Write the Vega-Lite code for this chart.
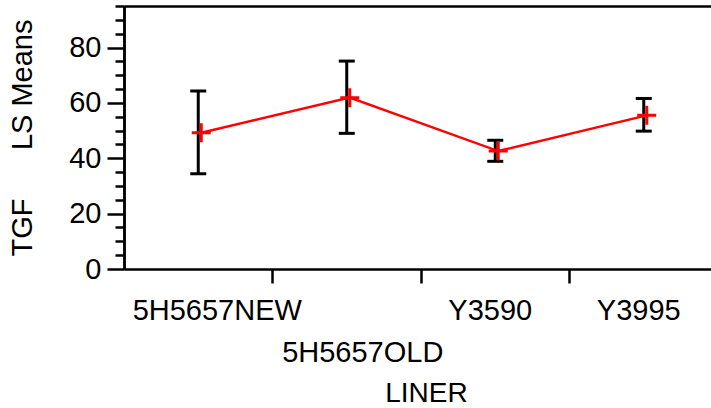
{
  "$schema": "https://vega.github.io/schema/vega-lite/v6.json",
  "width": 587,
  "height": 263,
  "autosize": {"type": "none"},
  "padding": {"left": 124, "top": 6, "right": 0, "bottom": 139},
  "background": "white",
  "config": {
    "view": {"stroke": null},
    "font": "Liberation Sans",
    "axis": {"grid": false}
  },
  "data": {
    "values": [
      {"liner": "5H5657NEW", "mean": 49.2, "lower": 34.4, "upper": 64.3},
      {"liner": "5H5657OLD", "mean": 61.9, "lower": 49.0, "upper": 75.1},
      {"liner": "Y3590", "mean": 42.6, "lower": 38.9, "upper": 46.5},
      {"liner": "Y3995", "mean": 55.5, "lower": 49.8, "upper": 61.6}
    ]
  },
  "resolve": {"axis": {"x": "independent", "y": "independent"}},
  "layer": [
    {
      "mark": {"type": "rule", "color": "black", "strokeWidth": 3},
      "encoding": {
        "x": {
          "field": "liner", "type": "nominal", "sort": null,
          "scale": {"range": [0, 594], "paddingInner": 0, "paddingOuter": 0},
          "axis": {
            "orient": "bottom",
            "title": "LINER",
            "titleFontSize": 28,
            "titleFontWeight": "normal",
            "titleColor": "black",
            "titlePadding": 12,
            "titleX": 302,
            "labelFontSize": 29,
            "labelColor": "black",
            "labelAngle": 0,
            "labelOverlap": false,
            "labelPadding": {"condition": {"test": "datum.value == '5H5657OLD'", "value": 55}, "value": 13},
            "labelOffset": {"condition": [
              {"test": "datum.value == '5H5657NEW'", "value": 19},
              {"test": "datum.value == '5H5657OLD'", "value": 16}
            ], "value": -5},
            "bandPosition": 0,
            "tickSize": 14,
            "tickWidth": 2.5,
            "tickColor": {"condition": {"test": "datum.value == '5H5657NEW'", "value": "transparent"}, "value": "black"},
            "domainColor": "black",
            "domainWidth": 2.5
          }
        },
        "y": {
          "field": "lower", "type": "quantitative",
          "scale": {"domain": [0, 95], "nice": false, "zero": false},
          "axis": {
            "orient": "left",
            "values": [0, 20, 40, 60, 80],
            "title": "TGF\u00a0\u00a0\u00a0\u00a0\u00a0\u00a0LS Means",
            "titleFontSize": 29,
            "titleFontWeight": "normal",
            "titleColor": "black",
            "titlePadding": 31,
            "labelFontSize": 29,
            "labelColor": "black",
            "labelPadding": 6,
            "labelOverlap": false,
            "tickSize": 17,
            "tickWidth": 2.5,
            "tickColor": "black",
            "domainColor": "black",
            "domainWidth": 2.5
          }
        },
        "y2": {"field": "upper"}
      }
    },
    {
      "mark": {"type": "tick", "color": "black", "thickness": 3, "size": 16, "orient": "horizontal", "opacity": 1},
      "encoding": {
        "x": {"field": "liner", "type": "nominal", "sort": null, "axis": null},
        "y": {
          "field": "upper", "type": "quantitative",
          "axis": {
            "orient": "left",
            "values": [5, 10, 15, 25, 30, 35, 45, 50, 55, 65, 70, 75, 85, 90, 95],
            "labels": false,
            "title": null,
            "tickSize": 9,
            "tickWidth": 2.5,
            "tickColor": "black",
            "domainColor": "black",
            "domainWidth": 2.5
          }
        }
      }
    },
    {
      "mark": {"type": "tick", "color": "black", "thickness": 3, "size": 16, "orient": "horizontal", "opacity": 1},
      "encoding": {
        "x": {
          "field": "liner", "type": "nominal", "sort": null,
          "axis": {"orient": "top", "labels": false, "ticks": false, "title": null, "domainColor": "black", "domainWidth": 2.5}
        },
        "y": {"field": "lower", "type": "quantitative", "axis": null}
      }
    },
    {
      "mark": {"type": "line", "color": "red", "strokeWidth": 2.5, "xOffset": 3},
      "encoding": {
        "x": {"field": "liner", "type": "nominal", "sort": null, "axis": null},
        "y": {"field": "mean", "type": "quantitative", "axis": null}
      }
    },
    {
      "mark": {"type": "point", "shape": "M-1,0H1M0,-1V1", "size": 361, "stroke": "red", "strokeWidth": 3, "filled": false, "opacity": 1, "xOffset": 3},
      "encoding": {
        "x": {"field": "liner", "type": "nominal", "sort": null, "axis": null},
        "y": {"field": "mean", "type": "quantitative", "axis": null}
      }
    }
  ]
}
